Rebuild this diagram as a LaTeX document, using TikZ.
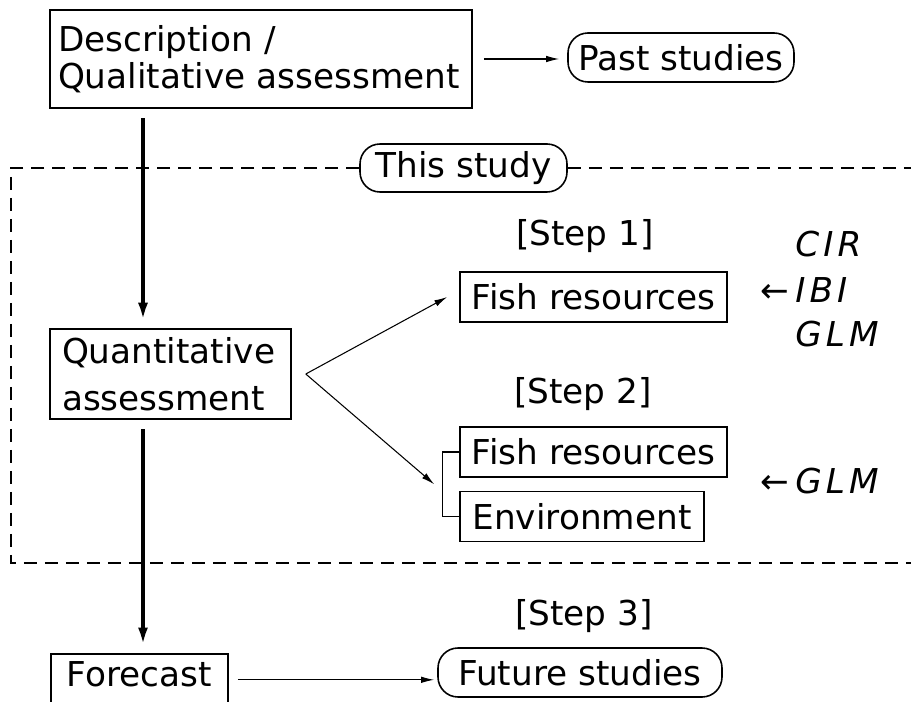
\documentclass[tikz,border=0pt]{standalone}
\usepackage{fontspec}
\setmainfont{DejaVu Sans}
\usepackage{tikz}
\usetikzlibrary{arrows.meta,positioning,calc}

\begin{document}
\begin{tikzpicture}[
    box/.style={
        rectangle, draw, line width=0.9pt,
        inner xsep=#1, inner ysep=0.1cm,
    },
    item/.style={
        rectangle, draw, line width=0.9pt,
        minimum width=#1, minimum height=1cm,
    },
    study/.style={
        rectangle, draw, rounded corners=0.4cm, line width=0.9pt,
        minimum height=0.98cm, inner xsep=0.2cm,
    },
    steplabel/.style={anchor=base, inner sep=0pt},
    method/.style={anchor=base west, inner sep=0pt,
        font=\fontsize{19.5}{21}\selectfont\itshape\addfontfeature{LetterSpace=12}},
    arr/.style={-{Latex[length=0.26cm,width=0.13cm]}, line width=0.6pt},
    flow/.style={-{Latex[length=0.36cm,width=0.2cm]}, line width=2.3pt, shorten <=0.19cm, shorten >=0.15cm},
    frame/.style={dash pattern=on 0.26cm off 0.16cm, line width=0.6pt},
    font=\fontsize{19.5}{21}\selectfont,
]
\useasboundingbox (0,0) rectangle (18.22,-14.04);

% Past
\node[box=0.16cm, text width=8.12cm, minimum height=1.96cm, align=left] (desc) at (5.22,-1.18) {Description /\\Qualitative assessment};
\node[study, minimum width=4.52cm] (past) at (13.62,-1.15) {Past studies};

\draw[arr, shorten <=0.22cm, shorten >=0.16cm] (desc.east) -- (desc.east -| past.west);

% This study
\node[study, minimum width=4.14cm, minimum height=0.96cm] (thisst) at (9.27,-3.36) {This study};
\coordinate (ftl) at (0.22,-3.36);
\coordinate (fbl) at (0.22,-11.26);
\coordinate (ftr) at (18.4,-3.36);
\coordinate (fbr) at (18.4,-11.26);
\draw[frame] (thisst.west) -- (ftl) -- (fbl) -- (fbr);
\draw[frame] (thisst.east) -- (ftr);

\node[box=0.24cm, text width=4.34cm, minimum height=1.8cm, align=left, font=\fontsize{19.5}{26.7}\selectfont] (quant) at (3.41,-7.48) {Quantitative\\assessment};

% Step 1
\node[steplabel] (step1) at (11.7,-4.92) {[Step 1]};
\node[item=5.34cm] (fish1) at (11.87,-5.94) {Fish resources};
\node[method] (cir) at (15.9,-5.14) {CIR};
\node[method] (ibi) at (15.9,-6.06) {IBI};
\node[method] (glm1) at (15.9,-6.94) {GLM};
\node[anchor=base east, inner sep=0pt] (from1) at ([xshift=-0.1cm]ibi.base west) {←};

% Step 2
\node[steplabel] (step2) at (11.66,-8.08) {[Step 2]};
\node[item=5.34cm] (fish2) at (11.87,-9.04) {Fish resources};
\node[item=4.88cm, below=0.26cm of fish2.south west, anchor=north west] (env) {Environment};
\node[method] (glm2) at (15.9,-9.86) {GLM};
\node[anchor=base east, inner sep=0pt] (from2) at ([xshift=-0.1cm]glm2.base west) {←};

\draw[line width=0.6pt] (fish2.west) -- ++(-0.34,0) coordinate (brtop) |- (env.west);
\coordinate (brmid) at ($(brtop)!0.5!(brtop |- env.west)$);

\coordinate[right=0.28cm of quant.east] (fork);
\draw[arr] (fork) -- ([xshift=-0.24cm]fish1.west);
\draw[arr] (fork) -- ([xshift=-0.16cm]brmid);

% Step 3
\node[steplabel] (step3) at (11.68,-12.5) {[Step 3]};
\node[box=0.1cm, minimum width=3.54cm, text height=0.56cm, text depth=0.28cm, anchor=north] (fcast) at (2.79,-13.06) {Forecast};
\node[study, minimum width=5.68cm] (future) at (11.6,-13.45) {Future studies};

\draw[arr, shorten <=0.18cm, shorten >=0.06cm] (fcast.east) -- (fcast.east -| future.west);

% Main line
\coordinate (spine) at (2.86,0);
\draw[flow] (desc.south -| spine) -- (quant.north -| spine);
\draw[flow] (quant.south -| spine) -- (fcast.north -| spine);

\end{tikzpicture}
\end{document}
